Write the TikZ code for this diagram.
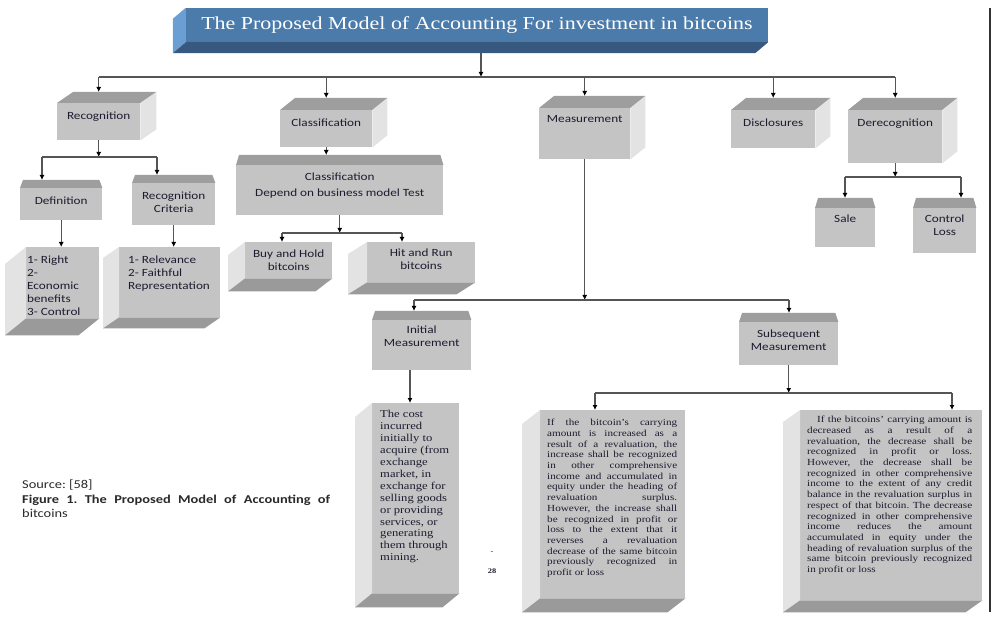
\documentclass[tikz,border=0pt]{standalone}
\usepackage{fontspec}
\setmainfont{Carlito}[FakeStretch=1.2]
\newfontfamily\tnr{Liberation Serif}[FakeStretch=1.2]
\usetikzlibrary{arrows.meta}
\frenchspacing
\definecolor{frontgray}{HTML}{C4C4C4}
\definecolor{topgray}{HTML}{9E9E9E}
\definecolor{sidegray}{HTML}{E3E3E3}
\definecolor{botgray}{HTML}{9A9A9A}
\definecolor{ttlfront}{HTML}{4A7BAA}
\definecolor{ttlside}{HTML}{6B9FD3}
\definecolor{ttlbot}{HTML}{37597F}
\definecolor{inkblue}{HTML}{1C1C30}
\definecolor{linegray}{HTML}{555555}
\definecolor{capgray}{HTML}{2A2A2A}

\newcommand\cubetop[3]{%
  \fill[topgray] (#1.north west) -- ++(#2,#3) -- ([shift={(#2,#3)}]#1.north east) -- (#1.north east) -- cycle;
  \fill[sidegray] (#1.north east) -- ++(#2,#3) -- ([shift={(#2,#3)}]#1.south east) -- (#1.south east) -- cycle;
  \coordinate (#1-top) at ([shift={(0,#3)}]#1.north);}
\newcommand\cubelid[2]{%
  \fill[topgray] (#1.north west) -- ++(3,-#2) -- ([shift={(-3,-#2)}]#1.north east) -- (#1.north east) -- cycle;
  \coordinate (#1-top) at ([shift={(0,-#2)}]#1.north);}
\newcommand\cubedrop[3]{%
  \fill[sidegray] (#1.north west) -- ++(-#2,#3) -- ([shift={(-#2,#3)}]#1.south west) -- (#1.south west) -- cycle;
  \fill[botgray] (#1.south west) -- ++(-#2,#3) -- ([shift={(-#2,#3)}]#1.south east) -- (#1.south east) -- cycle;}

\begin{document}
\begin{tikzpicture}[x=1pt,y=-1pt,
  front/.style 2 args={fill=frontgray,inner sep=0pt,anchor=north west,minimum width=#1,minimum height=#2},
  lbl/.style={anchor=north,inner sep=0pt,align=center,text=inkblue,font=\fontsize{11}{13}\selectfont},
  body/.style={anchor=north west,inner sep=0pt,align=justify,text=inkblue,font=\tnr\fontsize{9.3}{10.7}\selectfont},
  line/.style={draw=linegray,line width=1.2pt},
  arr/.style={line,-{Latex[length=5pt,width=5pt,color=black]}}]
\useasboundingbox (0,0) rectangle (993,617);

\node[fill=ttlfront,inner sep=0pt,minimum width=582,minimum height=34,text=white,font=\tnr\fontsize{18.3}{20}\selectfont] (title) at (477,25) {The Proposed Model of Accounting For investment in bitcoins};
\fill[ttlside] (title.north west) -- ++(-13,11) -- ([shift={(-13,11)}]title.south west) -- (title.south west) -- cycle;
\fill[ttlbot] (title.south west) -- ++(-13,11) -- ([shift={(-13,11)}]title.south east) -- (title.south east) -- cycle;
\coordinate (ttlfoot) at ([yshift=-11pt]title.south);

\node[front={83}{37}] (recog) at (57,103) {};
\cubetop{recog}{16}{-11}
\node[lbl] (recogtxt) at ([yshift=-9pt]recog.north) {Recognition};
\node[front={92}{37}] (classif) at (280,110) {};
\cubetop{classif}{15}{-12}
\node[lbl] (classiftxt) at ([yshift=-9pt]classif.north) {Classification};
\node[front={91}{51}] (measure) at (539,108) {};
\cubetop{measure}{15}{-12}
\node[lbl] (measuretxt) at ([yshift=-7pt]measure.north) {Measurement};
\node[front={84}{38}] (disclos) at (731,110) {};
\cubetop{disclos}{15}{-12}
\node[lbl] (disclostxt) at ([yshift=-9pt]disclos.north) {Disclosures};
\node[front={94}{53}] (derecog) at (848,110) {};
\cubetop{derecog}{15}{-12}
\node[lbl] (derecogtxt) at ([yshift=-9pt]derecog.north) {Derecognition};

\node[front={82}{32}] (defin) at (20,188) {};
\cubelid{defin}{8}
\node[lbl] (defintxt) at ([yshift=-8.5pt]defin.north) {Definition};
\node[front={83}{42}] (reccrit) at (132,183) {};
\cubelid{reccrit}{8}
\node[lbl] (reccrittxt) at ([yshift=-9pt]reccrit.north) {Recognition\\Criteria};
\node[front={73}{71}] (rights) at (26,247) {};
\cubedrop{rights}{21}{17}
\node[lbl,anchor=north west,align=left] (rightstxt) at ([shift={(1,9)}]rights.north west) {1- Right\\2-\\Economic\\benefits\\3- Control};
\node[front={101}{70}] (relev) at (119,247) {};
\cubedrop{relev}{16}{11}
\node[lbl,anchor=north west,align=left] (relevtxt) at ([shift={(9,9)}]relev.north west) {1- Relevance\\2- Faithful\\Representation};

\node[front={207}{50}] (clsdep) at (236,165) {};
\cubelid{clsdep}{10}
\node[lbl,font=\fontsize{11}{16}\selectfont] (clsdeptxt) at ([yshift=-8pt]clsdep.north) {Classification\\Depend on business model Test};
\node[front={87}{36}] (buyhold) at (245,242) {};
\cubedrop{buyhold}{17}{13}
\node[lbl] (buyholdtxt) at ([yshift=-8pt]buyhold.north) {Buy and Hold\\bitcoins};
\node[front={108}{40}] (hitrun) at (367,242) {};
\cubedrop{hitrun}{19}{12}
\node[lbl] (hitruntxt) at ([yshift=-7pt]hitrun.north) {Hit and Run\\bitcoins};

\node[front={60}{39}] (sale) at (815,208) {};
\cubelid{sale}{10}
\node[lbl] (saletxt) at ([yshift=-7pt]sale.north) {Sale};
\node[front={63}{45}] (ctrlloss) at (913,208) {};
\cubelid{ctrlloss}{10}
\node[lbl] (ctrllosstxt) at ([yshift=-7pt]ctrlloss.north) {Control\\Loss};

\node[front={99}{50}] (initm) at (372,320) {};
\cubelid{initm}{9}
\node[lbl] (initmtxt) at ([yshift=-6pt]initm.north) {Initial\\Measurement};
\node[front={99}{43}] (subsm) at (739,322) {};
\cubelid{subsm}{9}
\node[lbl] (subsmtxt) at ([yshift=-8pt]subsm.north) {Subsequent\\Measurement};

\node[front={87}{190}] (cost) at (372,403) {};
\cubedrop{cost}{17}{14}
\node[body,align=left,font=\tnr\fontsize{10.5}{11.9}\selectfont] (costtxt) at ([shift={(8,7.5)}]cost.north west) {The cost\\incurred\\initially to\\acquire (from\\exchange\\market, in\\exchange for\\selling goods\\or providing\\services, or\\generating\\them through\\mining.};
\node[front={145}{188}] (incr) at (540,410) {};
\cubedrop{incr}{18}{14}
\node[body,text width=130pt] (incrtxt) at ([shift={(7,9)}]incr.north west) {If the bitcoin’s carrying\linebreak amount is increased as a\linebreak result of a revaluation, the\linebreak increase shall be recognized\linebreak in other comprehensive\linebreak income and accumulated in\linebreak equity under the heading of\linebreak revaluation surplus.\linebreak However, the increase shall\linebreak be recognized in profit or\linebreak loss to the extent that it\linebreak reverses a revaluation\linebreak decrease of the same bitcoin\linebreak previously recognized in\linebreak profit or loss};
\node[front={182}{190}] (decr) at (800,410) {};
\cubedrop{decr}{17}{12}
\node[body,text width=165pt] (decrtxt) at ([shift={(7,6)}]decr.north west) {\hspace*{10pt}If the bitcoins’ carrying amount is\linebreak decreased as a result of a\linebreak revaluation, the decrease shall be\linebreak recognized in profit or loss.\linebreak However, the decrease shall be\linebreak recognized in other comprehensive\linebreak income to the extent of any credit\linebreak balance in the revaluation surplus in\linebreak respect of that bitcoin. The decrease\linebreak recognized in other comprehensive\linebreak income reduces the amount\linebreak accumulated in equity under the\linebreak heading of revaluation surplus of the\linebreak same bitcoin previously recognized\linebreak in profit or loss};

\coordinate (bus) at (481,77);
\draw[arr] (ttlfoot -| bus) -- (bus);
\draw[line] (recog.north |- bus) -- (derecog.north |- bus);
\foreach \b in {recog,classif,measure,disclos,derecog}
  \draw[arr] (\b.north |- bus) -- (\b-top);

\coordinate (rb1) at (42,157);
\coordinate (rb2) at (157,157);
\draw[arr] (recog.south) -- (recog.south |- rb1);
\draw[line] (rb1) -- (rb2);
\draw[arr] (rb1) -- (rb1 |- defin-top);
\draw[arr] (rb2) -- (rb2 |- reccrit-top);
\draw[arr] (defin.south) -- (defin.south |- rights.north);
\draw[arr] (reccrit.south) -- (reccrit.south |- relev.north);

\draw[arr] (classif.south) -- (classif.south |- clsdep-top);
\coordinate (cb1) at (282,233);
\coordinate (cb2) at (402,233);
\draw[arr] (clsdep.south) -- (clsdep.south |- cb1);
\draw[line] (cb1) -- (cb2);
\draw[arr] (cb1) -- (cb1 |- buyhold.north);
\draw[arr] (cb2) -- (cb2 |- hitrun.north);

\coordinate (mb1) at (414,300);
\coordinate (mb2) at (789,300);
\draw[arr] (measure.south) -- (measure.south |- mb1);
\draw[line] (mb1) -- (mb2);
\draw[arr] (mb1) -- (mb1 |- initm-top);
\draw[arr] (mb2) -- (mb2 |- subsm-top);
\coordinate (ib) at (410,403);
\draw[arr] (initm.south -| ib) -- (ib);

\coordinate (sb1) at (595,393);
\coordinate (sb2) at (952,393);
\draw[arr] (subsm.south) -- (subsm.south |- sb1);
\draw[line] (sb1) -- (sb2);
\draw[arr] (sb1) -- (sb1 |- incr.north);
\draw[arr] (sb2) -- (sb2 |- decr.north);

\coordinate (db1) at (845,177);
\coordinate (db2) at (961,177);
\draw[arr] (derecog.south) -- (derecog.south |- db1);
\draw[line] (db1) -- (db2);
\draw[arr] (db1) -- (db1 |- sale-top);
\draw[arr] (db2) -- (db2 |- ctrlloss-top);

\node[anchor=north west,inner sep=0pt,text width=308pt,align=justify,text=capgray,font=\fontsize{12}{14.5}\selectfont] (caption) at (22,480) {Source: [58]\\\textbf{Figure 1. The Proposed Model of Accounting of}\linebreak bitcoins};
\node[inner sep=0pt,text=inkblue,font=\tnr\fontsize{7}{8}\selectfont] (pgdash) at (492,553) {-};
\node[inner sep=0pt,text=inkblue,font=\tnr\bfseries\fontsize{7}{8}\selectfont] (pgno) at (492,571) {28};
\draw[line width=1.5pt,black!80] (990,8) -- (990,612);
\end{tikzpicture}
\end{document}
